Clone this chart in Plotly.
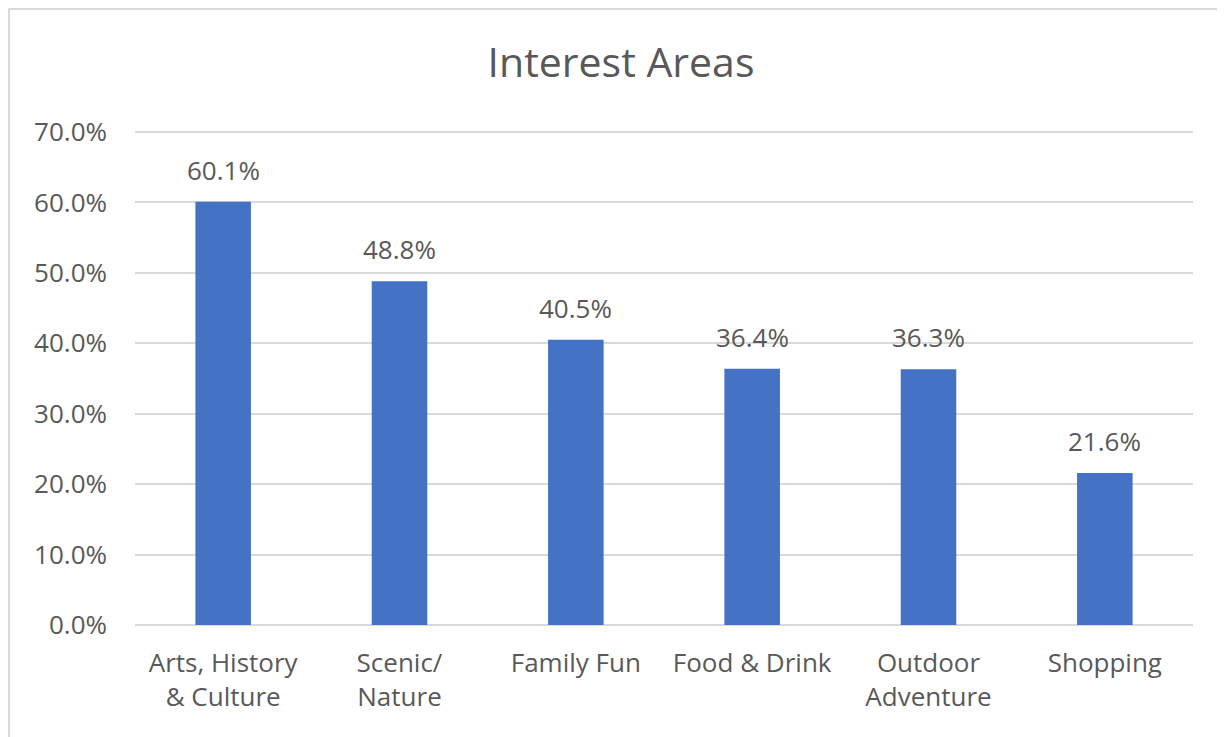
import plotly.graph_objects as go

categories = ["Arts, History<br>& Culture", "Scenic/<br>Nature", "Family Fun",
              "Food & Drink", "Outdoor<br>Adventure", "Shopping"]
shares = [0.601, 0.488, 0.405, 0.364, 0.363, 0.216]
y_ticks = [0, 0.1, 0.2, 0.3, 0.4, 0.5, 0.6, 0.7]

# page body adds an 8px margin, so the figure is drawn 8px smaller
W, H = 1217, 729
L, R, T, B = 127, 32, 117, 112
pw, ph = W - L - R, H - T - B

gray = "#595959"
grid = "#D9D9D9"

fig = go.Figure(go.Bar(
    x=categories, y=shares,
    marker=dict(color="#4472C4", line=dict(width=0)),
    width=0.315,
))

# data labels above the bars
for c, v in zip(categories, shares):
    fig.add_annotation(x=c, y=v, text=f"{v * 100:.1f}%", showarrow=False,
                       yanchor="middle", yshift=32,
                       font=dict(size=26, color=gray))

fig.update_layout(
    width=W, height=H,
    margin=dict(l=L, r=R, t=T, b=B),
    paper_bgcolor="white", plot_bgcolor="white",
    font=dict(family="Open Sans", color=gray, size=26),
    title=dict(text="Interest Areas", x=613 / W, xanchor="center",
               y=1 - 55 / H, yanchor="middle",
               font=dict(size=41, color=gray)),
    showlegend=False,
)
fig.update_xaxes(showgrid=False, showline=False, ticks="", ticklabelstandoff=20,
                 tickfont=dict(size=26, color=gray))
fig.update_yaxes(range=[0, 0.71], tickvals=y_ticks, tickformat=".1%",
                 showgrid=True, gridcolor=grid, gridwidth=2,
                 zeroline=True, zerolinecolor=grid, zerolinewidth=2,
                 showline=False, ticks="", ticklabelstandoff=27,
                 tickfont=dict(size=26, color=gray))

# chart-area border (top and left edges visible in the reference)
x0 = (0.5 - L) / pw
y0 = (H - B - 0.5) / ph
fig.add_shape(type="line", xref="paper", yref="paper",
              x0=x0, x1=(W + 5 - L) / pw, y0=y0, y1=y0,
              line=dict(color=grid, width=3))
fig.add_shape(type="line", xref="paper", yref="paper",
              x0=x0, x1=x0, y0=y0, y1=-(B + 5) / ph,
              line=dict(color=grid, width=3))

fig.write_html("out.html")
